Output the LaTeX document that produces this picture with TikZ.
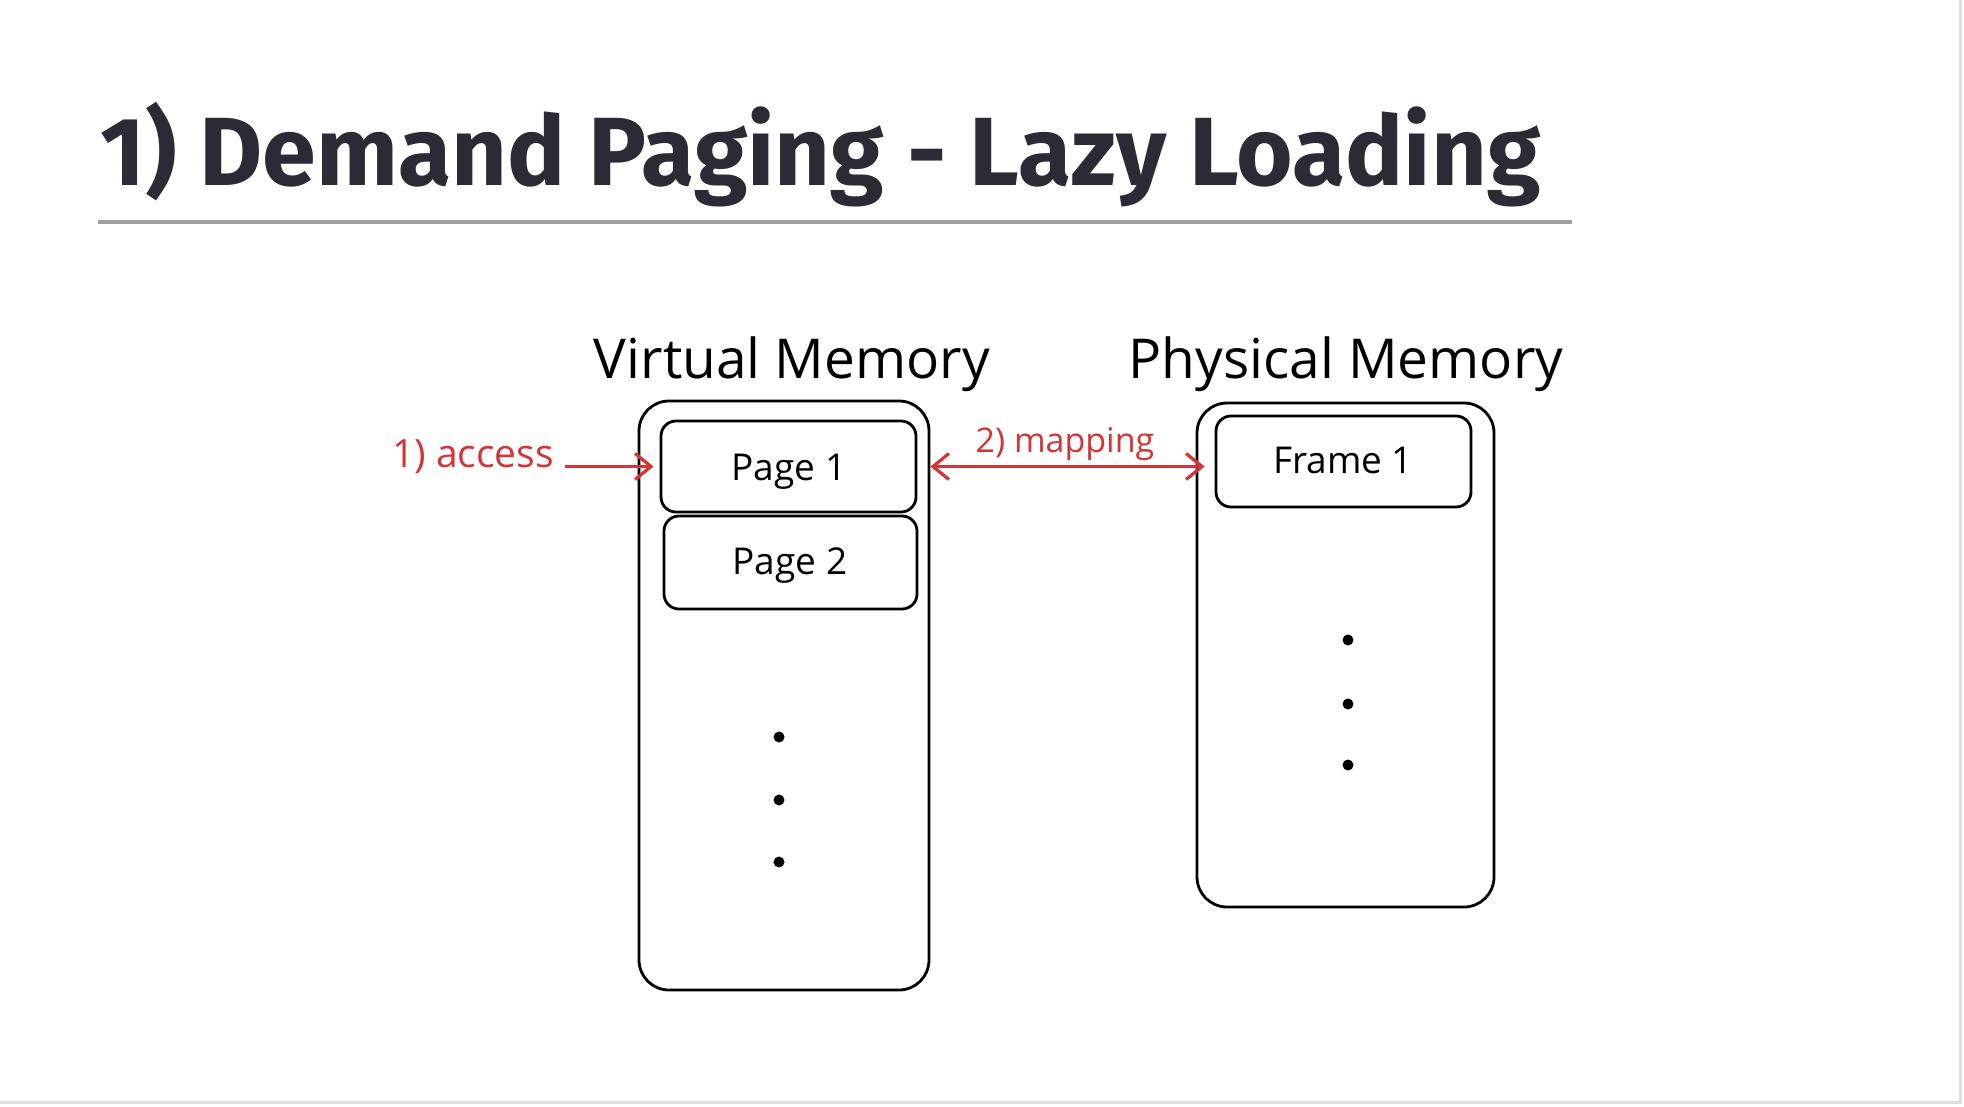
\documentclass[tikz,border=0pt]{standalone}
\usepackage{fontspec}
\setmainfont{Open Sans}
\newfontfamily\titlefont{Fira Sans}
\usetikzlibrary{arrows.meta}
\definecolor{titleink}{RGB}{43,42,53}
\definecolor{redink}{RGB}{214,52,52}
\definecolor{ruleline}{RGB}{160,160,160}
\tikzset{
  membox/.style={draw, line width=2.8pt, rounded corners=30pt, inner sep=0pt},
  cellbox/.style={draw, line width=2.8pt, rounded corners=15pt, inner sep=0pt},
  hand/.style={font=\fontsize{55}{60}\selectfont, anchor=base},
  celltext/.style={font=\fontsize{37}{40}\selectfont, anchor=base},
  redtext/.style={font=\fontsize{36}{40}\selectfont, text=redink, anchor=base},
  redarrow/.style={draw=redink, line width=3.2pt, -{Straight Barb[length=16pt,width=26pt]}},
  dot/.style={circle, fill, inner sep=0pt, minimum size=11pt}
}
\begin{document}
\begin{tikzpicture}[x=1pt, y=-1pt]
      \useasboundingbox[fill=white] (0,0) rectangle (1964,1106);
      % slide edges
      \draw[gray!25, line width=3pt] (1960,0) -- (1960,1102) -- (0,1102);
      % title
      \node[font=\titlefont\bfseries\fontsize{97}{110}\selectfont, text=titleink, anchor=base west, inner sep=0pt] (title) at (100,185) {1) Demand Paging - Lazy Loading};
      \draw[ruleline, line width=4pt] (98,222) -- (1572,222);
      % boxes
      \node[membox, minimum width=290pt, minimum height=589pt] (vmem) at (784,695.5) {};
      \node[membox, minimum width=297pt, minimum height=504pt] (pmem) at (1345.5,655) {};
      \node[cellbox, minimum width=255pt, minimum height=91pt] (page1) at (788.5,466.5) {};
      \node[cellbox, minimum width=253pt, minimum height=93pt] (page2) at (790.5,562.5) {};
      \node[cellbox, minimum width=255pt, minimum height=91pt] (frame1) at (1343.5,461.5) {};
      % texts
      \node[hand] (vlabel) at (792,378) {Virtual Memory};
      \node[hand] (plabel) at (1346,378) {Physical Memory};
      \node[celltext] (p1text) at (789,480) {Page 1};
      \node[celltext] (p2text) at (790,574) {Page 2};
      \node[celltext] (f1text) at (1343,473) {Frame 1};
      \node[redtext, font=\fontsize{39}{42}\selectfont] (access) at (473,467) {1) access};
      \node[redtext, font=\fontsize{34}{38}\selectfont] (mapping) at (1065,452) {2) mapping};
      % dots
      \foreach \y in {737,800,862} {
        \path (779,\y) node[dot]{};
      }
      \foreach \y in {640,704,765} {
        \path (1348,\y) node[dot]{};
      }
      % arrows
      \coordinate (accessend) at ([xshift=-6pt]page1.west);
      \coordinate (mapleft) at (vmem.east |- page1.east);
      \coordinate (mapright) at ([xshift=9pt]pmem.west |- page1.east);
      \draw[redarrow] ([xshift=8pt]access.east |- page1.west) -- (accessend);
      \draw[redarrow, {Straight Barb[length=16pt,width=26pt]}-{Straight Barb[length=16pt,width=26pt]}] (mapleft) -- (mapright);
\end{tikzpicture}
\end{document}
